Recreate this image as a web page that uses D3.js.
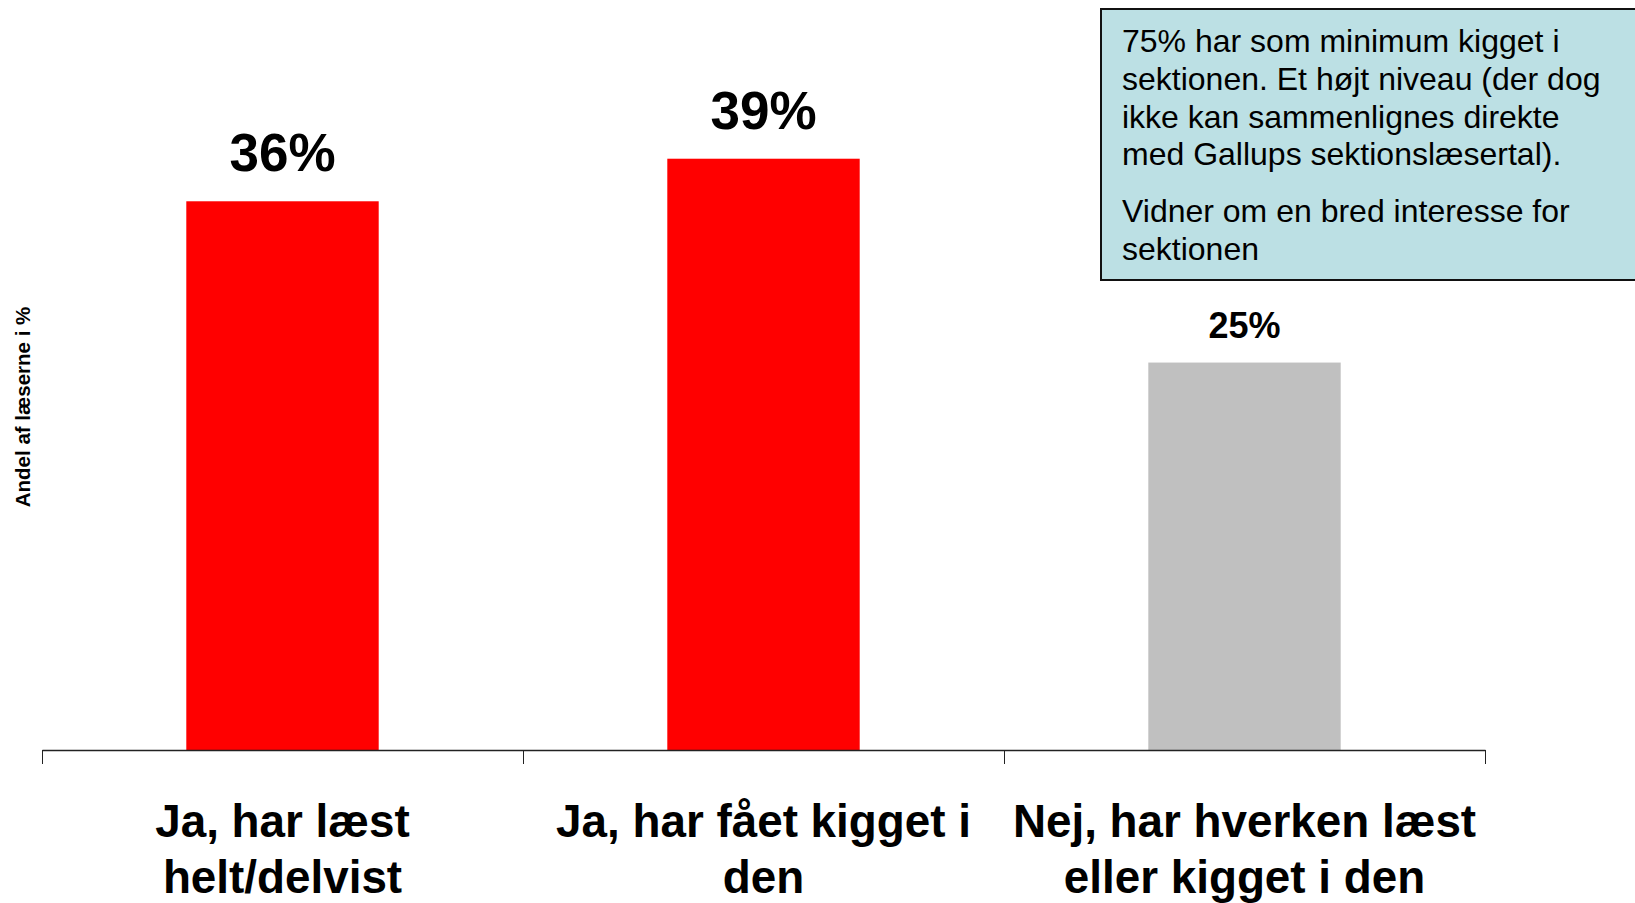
<!DOCTYPE html>
<html>
<head>
<meta charset="utf-8">
<script src="https://cdn.jsdelivr.net/npm/d3@7"></script>
<style>
  html, body { margin: 0; padding: 0; background: #fff; }
  svg { display: block; font-family: "Liberation Sans", Arial, sans-serif; }
</style>
</head>
<body>
<div id="chart"></div>
<script>
// data
let categories = ["Ja, har læst\nhelt/delvist", "Ja, har fået kigget i\nden", "Nej, har hverken læst\neller kigget i den"]
let values = [36.1, 38.9, 25.49]
let barColors = ["#ff0000", "#ff0000", "#c0c0c0"]
let yTitle = "Andel af læserne i %"
let noteParas = [
  ["75% har som minimum kigget i", "sektionen. Et højt niveau (der dog", "ikke kan sammenlignes direkte", "med Gallups sektionslæsertal)."],
  ["Vidner om en bred interesse for", "sektionen"]
]

let W = 1635, H = 903
let margin = { left: 42, right: 150, top: 0, baseline: 750 }

let svg = d3.select("#chart").append("svg")
  .attr("width", W)
  .attr("height", H)

// scales
let x = d3.scaleBand()
  .domain(categories)
  .range([margin.left, W - margin.right])
  .padding(0)

let xEdge = d3.scaleLinear()
  .domain([0, categories.length])
  .range([margin.left, W - margin.right])

let y = d3.scaleLinear()
  .domain([0, 40])
  .range([margin.baseline, margin.baseline - 608])

// bars
svg.selectAll("rect.bar")
  .data(values)
  .enter()
  .append("rect")
  .attr("class", "bar")
  .attr("x", (d, i) => x(categories[i]) + x.bandwidth() * 0.3)
  .attr("width", x.bandwidth() * 0.4)
  .attr("y", d => y(d))
  .attr("height", d => y(0) - y(d))
  .attr("fill", (d, i) => barColors[i])

// value labels (the grey bar gets a smaller one)
let fmt = d3.format(".0f")
svg.selectAll("text.val")
  .data(values)
  .enter()
  .append("text")
  .attr("class", "val")
  .attr("x", (d, i) => x(categories[i]) + x.bandwidth() / 2)
  .attr("y", (d, i) => y(d) - (i == 2 ? 25 : 30))
  .attr("text-anchor", "middle")
  .style("font-weight", "bold")
  .style("font-size", (d, i) => i == 2 ? "36px" : "53px")
  .text(d => fmt(d) + "%")

// x axis with ticks at the category boundaries
let axis = svg.append("g")
  .attr("transform", "translate(0," + margin.baseline + ")")
  .call(d3.axisBottom(xEdge)
    .tickValues(d3.range(categories.length + 1))
    .tickSize(14)
    .tickSizeOuter(0)
    .tickFormat(""))
axis.select(".domain").attr("stroke", "#222").attr("stroke-width", 1.3)
axis.selectAll(".tick line").attr("stroke", "#222").attr("stroke-width", 1)

// category labels
svg.selectAll("text.cat")
  .data(categories)
  .enter()
  .append("text")
  .attr("class", "cat")
  .attr("text-anchor", "middle")
  .style("font-weight", "bold")
  .style("font-size", "45.8px")
  .each(function (d) {
    let t = d3.select(this)
    d.split("\n").forEach(function (line, j) {
      t.append("tspan")
        .attr("x", x(d) + x.bandwidth() / 2)
        .attr("y", 837 + j * 56)
        .text(line)
    })
  })

// y title
svg.append("text")
  .attr("transform", "translate(30,407) rotate(-90)")
  .attr("text-anchor", "middle")
  .style("font-weight", "bold")
  .style("font-size", "20.5px")
  .text(yTitle)

// note box top right
let note = svg.append("g")
note.append("rect")
  .attr("x", 1101)
  .attr("y", 9)
  .attr("width", 560)
  .attr("height", 271)
  .attr("fill", "#bce0e4")
  .attr("stroke", "#111")
  .attr("stroke-width", 2)

let lineY = 52
noteParas.forEach(function (para, p) {
  if (p > 0) lineY += 19
  para.forEach(function (line) {
    note.append("text")
      .attr("x", 1122)
      .attr("y", lineY)
      .style("font-size", "32px")
      .attr("fill", "#000")
      .text(line)
    lineY += 37.8
  })
})
</script>
</body>
</html>
